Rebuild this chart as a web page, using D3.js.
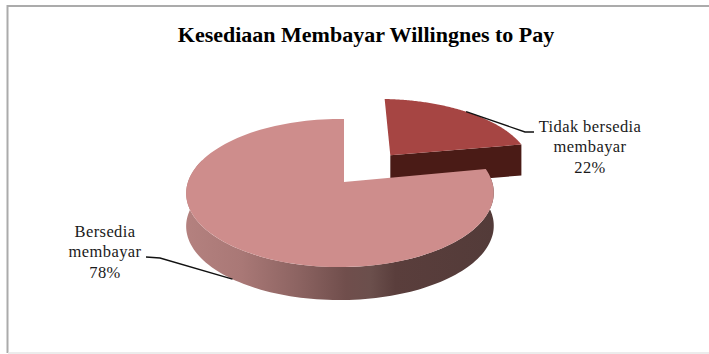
<!DOCTYPE html>
<html>
<head>
<meta charset="utf-8">
<script src="https://cdn.jsdelivr.net/npm/d3@7"></script>
<style>
  html, body { margin: 0; padding: 0; background: #fff; }
  svg { display: block; }
  text { font-family: "Liberation Serif", serif; fill: #1a1a1a; }
</style>
</head>
<body>
<svg id="chart" width="709" height="354"></svg>
<script>
// Chart content
const titleText = "Kesediaan Membayar Willingnes to Pay";
const categories = [["Tidak bersedia", "membayar"], ["Bersedia", "membayar"]];
const shares = [22, 78];

// Colours per slice
const topColours = ["#a64543", "#ce8d8c"];
const wallColour = "#4a1b16";
const wallStops = [
  [0, "#b4817f"], [0.18, "#a97876"], [0.36, "#8d6462"], [0.52, "#704e4c"],
  [0.6, "#6b4f4c"], [0.68, "#5a3e3c"], [1, "#533b39"]
];

// Tilted-disc projection: a unit disc is mapped to the page through a homography
const centre = { x: 344, y: 182 };
const scaleX = 152, scaleY = 72.4, tiltV = 0.1486, tiltU = -0.026;
const depth = 33, smallDepth = 31, explode = 0.51;
function project(u, v, drop = 0) {
  const w = 1 - tiltV * v - tiltU * u;
  return [centre.x + scaleX * u / w, centre.y + scaleY * v / w + drop];
}
const onRim = (a, off = [0, 0], drop = 0) =>
  project(off[0] + Math.sin(a), off[1] - Math.cos(a), drop);

const svg = d3.select("#chart");
const line = d3.line();

// Frame
svg.append("path").attr("d", line([[709, 6], [7.5, 6], [7.5, 353]]))
  .attr("fill", "none").attr("stroke", "#ababab").attr("stroke-width", 2);
svg.append("path").attr("d", line([[8, 353], [709, 353]]))
  .attr("fill", "none").attr("stroke", "#e6e6e6").attr("stroke-width", 1.5);

// Title
svg.append("text").attr("x", 366).attr("y", 42).attr("text-anchor", "middle")
  .attr("font-size", 22).attr("font-weight", "bold").style("fill", "#000")
  .text(titleText);

// Slice angles
const slices = d3.pie().sort(null).value(d => d)(shares);
const [small, large] = slices;
const arcAngles = (a0, a1) => d3.range(0, 121).map(i => a0 + (a1 - a0) * i / 120);
const mid = s => (s.startAngle + s.endAngle) / 2;
const smallOffset = [explode * Math.sin(mid(small)), -explode * Math.cos(mid(small))];

// Horizontal shading of the large slice's wall
const leftEdge = centre.x - 158, rightEdge = centre.x + 150;
const grad = svg.append("defs").append("linearGradient").attr("id", "wall")
  .attr("gradientUnits", "userSpaceOnUse")
  .attr("x1", leftEdge).attr("x2", rightEdge).attr("y1", 0).attr("y2", 0);
grad.selectAll("stop").data(wallStops).join("stop")
  .attr("offset", d => d[0]).attr("stop-color", d => d[1]);

// Small slice: cut wall, then top
const smallVertex = project(smallOffset[0], smallOffset[1]);
const smallCorner = onRim(small.endAngle, smallOffset);
svg.append("path").attr("fill", wallColour).attr("d", line([
  smallVertex, smallCorner,
  [smallCorner[0], smallCorner[1] + smallDepth], [smallVertex[0], smallVertex[1] + smallDepth]
]) + "Z");
svg.append("path").attr("fill", topColours[0]).attr("d", line([
  smallVertex, ...arcAngles(small.startAngle, small.endAngle).map(a => onRim(a, smallOffset))
]) + "Z");

// Large slice: outer wall, then top
const wallAngles = arcAngles(large.startAngle, 1.6 * Math.PI);
svg.append("path").attr("fill", "url(#wall)").attr("d", line([
  ...wallAngles.map(a => onRim(a)),
  ...wallAngles.slice().reverse().map(a => onRim(a, [0, 0], depth))
]) + "Z");
svg.append("path").attr("fill", topColours[1]).attr("d", line([
  project(0, 0), ...arcAngles(large.startAngle, large.endAngle).map(a => onRim(a))
]) + "Z");

// Leaders
const smallAnchor = onRim(mid(small), smallOffset);
const largeAnchor = onRim(mid(large), [0, 0], depth);
const leader = pts => svg.append("path").attr("d", line(pts)).attr("fill", "none")
  .attr("stroke", "#111").attr("stroke-width", 1.4);
leader([smallAnchor, [525, 132], [534, 132]]);
leader([largeAnchor, [160, 258], [146, 257]]);

// Data labels
function label(cx, topY, lines, share) {
  const t = svg.append("text").attr("text-anchor", "middle")
    .attr("font-size", 16.5).attr("letter-spacing", 0.4);
  [...lines, share + "%"].forEach((s, i) => {
    t.append("tspan").attr("x", cx).attr("y", topY + i * 20.3).text(s);
  });
}
label(590, 132, categories[0], shares[0]);
label(105, 237, categories[1], shares[1]);
</script>
</body>
</html>
